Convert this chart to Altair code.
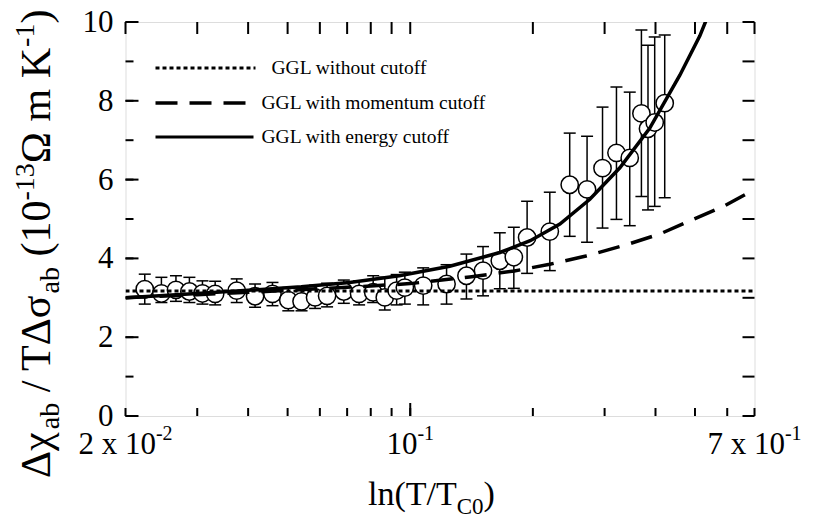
import altair as alt
import pandas as pd

# ---------------- data ----------------
x_data = [0.0223, 0.0245, 0.0266, 0.0287, 0.0309, 0.0332, 0.0375, 0.0416, 0.0459, 0.0502,
          0.0541, 0.0584, 0.0625, 0.0687, 0.0749, 0.0811, 0.0866, 0.0926, 0.0970, 0.1076,
          0.1228, 0.1374, 0.1509, 0.1659, 0.1796, 0.1936, 0.2201, 0.2463, 0.2717, 0.2965,
          0.3208, 0.3458, 0.3694, 0.3834, 0.3982, 0.4214]
y_data = [3.22, 3.11, 3.20, 3.16, 3.11, 3.10, 3.18, 3.04, 3.10, 2.94,
          2.91, 3.01, 3.05, 3.16, 3.10, 3.14, 3.01, 3.18, 3.26, 3.31,
          3.35, 3.56, 3.69, 3.94, 4.03, 4.53, 4.68, 5.87, 5.75, 6.29,
          6.68, 6.55, 7.68, 7.29, 7.45, 7.94]
y_hi = [3.60, 3.52, 3.56, 3.52, 3.43, 3.42, 3.48, 3.35, 3.39, 3.26,
        3.26, 3.32, 3.37, 3.45, 3.43, 3.56, 3.52, 3.59, 3.65, 3.76,
        3.84, 4.11, 4.30, 4.65, 4.79, 5.45, 5.68, 7.18, 7.10, 7.84,
        8.35, 8.22, 9.80, 9.41, 9.62, 9.67]
y_lo = [2.84, 2.88, 2.91, 2.88, 2.84, 2.82, 2.88, 2.76, 2.80, 2.67,
        2.67, 2.73, 2.77, 2.86, 2.82, 2.88, 2.69, 2.82, 2.84, 2.82,
        2.84, 2.97, 3.05, 3.23, 3.24, 3.62, 3.69, 4.56, 4.41, 4.77,
        4.99, 4.83, 5.57, 5.23, 5.32, 5.54]

dot_x = [0.02, 0.7]
dot_y = [3.17, 3.17]

dash_x = [0.02, 0.03, 0.04, 0.06, 0.08, 0.1, 0.14, 0.18, 0.22, 0.27, 0.34, 0.41, 0.48, 0.59, 0.7]
dash_y = [3.00, 3.08, 3.14, 3.23, 3.30, 3.36, 3.53, 3.68, 3.85, 4.06, 4.35, 4.62, 4.93, 5.33, 5.75]

solid_x = [0.02, 0.03, 0.04, 0.054, 0.071, 0.094, 0.125, 0.166, 0.197, 0.233, 0.276, 0.327,
           0.387, 0.459, 0.514, 0.55]
solid_y = [3.00, 3.11, 3.19, 3.28, 3.39, 3.56, 3.80, 4.15, 4.45, 4.87, 5.50, 6.30,
           7.30, 8.65, 9.65, 10.4]

legend_labels = ["GGL without cutoff", "GGL with momentum cutoff", "GGL with energy cutoff"]

x_label_vals = [0.02, 0.1, 0.7]
x_label_base = ["2 x 10", "10", "7 x 10"]
x_label_sup = ["-2", "-1", "-1"]
y_label_vals = [0, 2, 4, 6, 8, 10]

x_minor = [0.02, 0.03, 0.04, 0.05, 0.06, 0.07, 0.08, 0.09, 0.1, 0.2, 0.3, 0.4, 0.5, 0.6, 0.7]
x_major = [0.1]
y_minor = [0, 1, 2, 3, 4, 5, 6, 7, 8, 9, 10]
y_major = [0, 2, 4, 6, 8, 10]

# ---------------- styling ----------------
FONT = "Liberation Serif"
W, H = 629, 394
xs = alt.Scale(type="log", domain=[0.02, 0.7], nice=False)
ys = alt.Scale(domain=[0, 10], nice=False, zero=False)

CW = {'Δ': 0.612, 'χ': 0.549, 'σ': 0.603, 'Ω': 0.768, ' ': 0.25, '/': 0.278, 'T': 0.611,
      'a': 0.444, 'b': 0.5, '(': 0.333, ')': 0.333, '-': 0.333, 'm': 0.778, 'K': 0.722,
      'l': 0.278, 'n': 0.5, 'C': 0.667, 'x': 0.5}


def tw(s, f):
    return sum(CW.get(c, 0.5) for c in s) * f


def XQ(field):
    return alt.X(field, type="quantitative", scale=xs, axis=None)


def YQ(field):
    return alt.Y(field, type="quantitative", scale=ys, axis=None)


pts = pd.DataFrame({"x": x_data, "y": y_data, "lo": y_lo, "hi": y_hi})

stems = alt.Chart(pts).mark_rule(color="black", strokeWidth=1.5).encode(
    x=XQ("x"), y=YQ("lo"), y2="hi")
caps_lo = alt.Chart(pts).mark_tick(orient="horizontal", size=12, thickness=1.5,
                                   color="black", opacity=1).encode(x=XQ("x"), y=YQ("lo"))
caps_hi = alt.Chart(pts).mark_tick(orient="horizontal", size=12, thickness=1.5,
                                   color="black", opacity=1).encode(x=XQ("x"), y=YQ("hi"))
points = alt.Chart(pts).mark_point(shape="circle", size=300, filled=True, fill="white",
                                   stroke="black", strokeWidth=1.5, opacity=1).encode(
    x=XQ("x"), y=YQ("y"))


def curve(xv, yv, dash, width):
    kw = dict(color="black", strokeWidth=width, clip=True)
    if dash:
        kw["strokeDash"] = dash
    return alt.Chart(pd.DataFrame({"x": xv, "y": yv})).mark_line(**kw).encode(
        x=XQ("x"), y=YQ("y"))


DOT = [4, 3]
DASH = [22, 12]
dotted = curve(dot_x, dot_y, DOT, 3)
dashed = curve(dash_x, dash_y, DASH, 3.5)
solid = curve(solid_x, solid_y, None, 3.5)


# ---------------- inward frame ticks (positioned by the scales) ----------------
def xticks(vals, y1, y2):
    return alt.Chart(pd.DataFrame({"v": vals})).mark_rule(color="black", strokeWidth=2).encode(
        x=XQ("v"), y=alt.value(y1), y2=alt.value(y2))


def yticks(vals, x1, x2):
    return alt.Chart(pd.DataFrame({"v": vals})).mark_rule(color="black", strokeWidth=2).encode(
        y=YQ("v"), x=alt.value(x1), x2=alt.value(x2))


ticks = [
    xticks(x_minor, H, H - 8), xticks(x_major, H, H - 13), xticks(x_minor, 0, 12),
    yticks(y_minor, 0, 8), yticks(y_major, 0, 13), yticks(y_minor, W, W - 12),
]

# ---------------- tick labels ----------------
LF, LS = 31, 20
tick_labels = []
for v, base, sup in zip(x_label_vals, x_label_base, x_label_sup):
    total = tw(base, LF) + tw(sup, LS)
    shift = -total / 2 + tw(base, LF)
    d = pd.DataFrame({"v": [v]})
    tick_labels.append(alt.Chart(d).mark_text(
        text=base, font=FONT, fontSize=LF, color="black", align="right",
        baseline="alphabetic", dx=shift).encode(x=XQ("v"), y=alt.value(H + 38)))
    tick_labels.append(alt.Chart(d).mark_text(
        text=sup, font=FONT, fontSize=LS, color="black", align="left",
        baseline="alphabetic", dx=shift).encode(x=XQ("v"), y=alt.value(H + 24)))

tick_labels.append(alt.Chart(pd.DataFrame({"v": y_label_vals})).mark_text(
    font=FONT, fontSize=LF, color="black", align="right", baseline="middle", dy=1).encode(
    y=YQ("v"), x=alt.value(-12), text=alt.Text("v:Q")))


def one_row():
    return pd.DataFrame({"k": [0]})


def txt(s, px, py, size, angle=None, align="left", baseline="alphabetic"):
    kw = dict(text=s, font=FONT, fontSize=size, color="black", align=align, baseline=baseline)
    if angle is not None:
        kw["angle"] = angle
    return alt.Chart(one_row()).mark_text(**kw).encode(x=alt.value(px), y=alt.value(py))


def leg_rule(y, dash, width, x2):
    kw = dict(color="black", strokeWidth=width)
    if dash:
        kw["strokeDash"] = dash
    return alt.Chart(one_row()).mark_rule(**kw).encode(
        x=alt.value(30), x2=alt.value(x2), y=alt.value(y))


legend = [
    leg_rule(46, DOT, 3, 130), txt(legend_labels[0], 146, 46, 19.5, baseline="middle"),
    leg_rule(81, DASH, 3.5, 130), txt(legend_labels[1], 136, 81, 19.5, baseline="middle"),
    leg_rule(115, None, 3, 128), txt(legend_labels[2], 136, 115, 19.5, baseline="middle"),
]

# --- rich-text axis titles built from pieces (no leading spaces: SVG collapses them) ---
YF, YS = 42, 28
y_pieces = [("Δχ", "m", 0), ("ab", "sub", 0), ("/ TΔσ", "m", 0.25), ("ab", "sub", 0),
            ("(10", "m", 0.25), ("-13", "sup", 0), ("Ω m K", "m", 0), ("-1", "sup", 0),
            (")", "m", 0)]
y_base = {"m": 50 - 125.5, "sub": 59 - 125.5, "sup": 34 - 125.5}
titles = []
pos = 478 - 22
for s, kind, pre in y_pieces:
    f = YF if kind == "m" else YS
    pos -= pre * YF
    titles.append(txt(s, y_base[kind], pos, f, angle=270))
    pos -= tw(s, f)

XF, XS = 34, 23
x_pieces = [("ln(T/T", "m"), ("C0", "sub"), (")", "m")]
x_base = {"m": 505 - 22, "sub": 514 - 22}
posx = 368 - 125.5
for s, kind in x_pieces:
    f = XF if kind == "m" else XS
    titles.append(txt(s, posx, x_base[kind], f))
    posx += tw(s, f)

chart = alt.layer(
    stems, caps_lo, caps_hi, points, dotted, dashed, solid,
    *ticks, *tick_labels, *legend, *titles
).properties(
    width=W, height=H,
    autosize=alt.AutoSizeParams(type="none"),
    padding={"left": 117.5, "top": 14, "right": 61.5, "bottom": 108},
).configure_view(stroke="black", strokeWidth=3).configure(background="white")

chart.save("out.html", embed_options={"renderer": "svg", "actions": False})
